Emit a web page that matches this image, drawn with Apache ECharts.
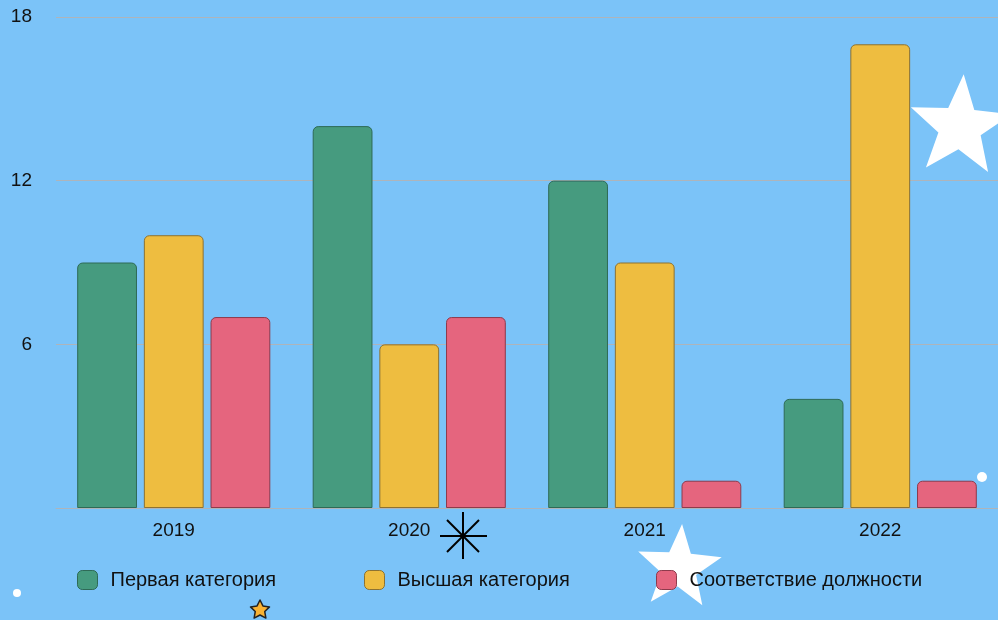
<!DOCTYPE html>
<html><head><meta charset="utf-8">
<script src="https://cdn.jsdelivr.net/npm/echarts@6/dist/echarts.min.js"></script>
<style>html,body{margin:0;padding:0;background:#7BC3F8;overflow:hidden;}#c{width:998px;height:620px;}</style>
</head><body><div id="c"></div>
<script>
var categories = ['2019', '2020', '2021', '2022'];
var seriesNames = ['Первая категория', 'Высшая категория', 'Соответствие должности'];
var firstCategory = [9, 14, 12, 4];
var highestCategory = [10, 6, 9, 17];
var positionMatch = [7, 7, 1, 1];
var yTicks = [0, 6, 12, 18];

var colors = ['#469B7F', '#EEBD40', '#E5657E'];
var borders = ['#2E6A56', '#8C7232', '#8E3A4C'];
var font = 'Liberation Sans, Arial, Helvetica, sans-serif';

function starPoints(cx, cy, R, ratio, rotDeg) {
  var pts = [];
  for (var i = 0; i < 10; i++) {
    var rr = i % 2 === 0 ? R : R * ratio;
    var a = (rotDeg - 90 + i * 36) * Math.PI / 180;
    pts.push([cx + rr * Math.cos(a), cy + rr * Math.sin(a)]);
  }
  return pts;
}

var chart = echarts.init(document.getElementById('c'), null, {renderer: 'canvas'});
var data = [firstCategory, highestCategory, positionMatch];
var series = seriesNames.map(function (n, i) {
  return {
    name: n, type: 'bar', data: data[i],
    barGap: '11.5%', barCategoryGap: '18%',
    itemStyle: {color: colors[i], borderColor: borders[i], borderWidth: 1, borderRadius: [5, 5, 0, 0]},
    z: 2
  };
});
var legendLefts = [77, 364, 656];
var legends = seriesNames.map(function (n, i) {
  return {
    data: [n], left: legendLefts[i], top: 570, padding: 0, itemWidth: 20, itemHeight: 19,
    icon: 'roundRect', itemStyle: {borderColor: borders[i], borderWidth: 1},
    textStyle: {fontFamily: font, fontSize: 20, color: '#111', padding: [0, 0, 0, 8]},
    selectedMode: false, z: 5
  };
});

chart.setOption({
  backgroundColor: '#7BC3F8',
  animation: false,
  grid: {left: 56, width: 946, top: 17, height: 491, containLabel: false},
  legend: legends,
  xAxis: {
    type: 'category', data: categories,
    axisLine: {lineStyle: {color: '#AEB4BA', width: 1}},
    axisTick: {show: false},
    axisLabel: {fontFamily: font, fontSize: 19, color: '#111', margin: 13}
  },
  yAxis: {
    type: 'value', min: yTicks[0], max: yTicks[yTicks.length - 1], interval: 6,
    axisLine: {show: false}, axisTick: {show: false},
    splitLine: {lineStyle: {color: '#AEB4BA', width: 1}},
    axisLabel: {fontFamily: font, fontSize: 19, color: '#111', margin: 24, showMinLabel: false}
  },
  series: series,
  graphic: [
    {type: 'polygon', shape: {points: starPoints(960, 127, 53, 0.42, 4)}, style: {fill: '#FFFFFF'}, z: 10},
    {type: 'polygon', shape: {points: starPoints(679, 568, 44, 0.42, 4)}, style: {fill: '#FFFFFF'}, z: 1},
    {type: 'polygon', shape: {points: starPoints(260, 610, 10, 0.5, 0)}, style: {fill: '#F9B233', stroke: '#222', lineWidth: 1.5, lineJoin: 'round'}, z: 10},
    {type: 'circle', shape: {cx: 17, cy: 593, r: 4}, style: {fill: '#FFFFFF'}, z: 10},
    {type: 'circle', shape: {cx: 982, cy: 477, r: 5}, style: {fill: '#FFFFFF'}, z: 10},
    {type: 'group', z: 10, children: [
      {type: 'line', shape: {x1: 440, y1: 536, x2: 487, y2: 536}, style: {stroke: '#000', lineWidth: 2}},
      {type: 'line', shape: {x1: 463, y1: 512, x2: 463, y2: 559}, style: {stroke: '#000', lineWidth: 2}},
      {type: 'line', shape: {x1: 447, y1: 520, x2: 479, y2: 552}, style: {stroke: '#000', lineWidth: 2}},
      {type: 'line', shape: {x1: 479, y1: 520, x2: 447, y2: 552}, style: {stroke: '#000', lineWidth: 2}}
    ]}
  ]
});
</script>
</body></html>
